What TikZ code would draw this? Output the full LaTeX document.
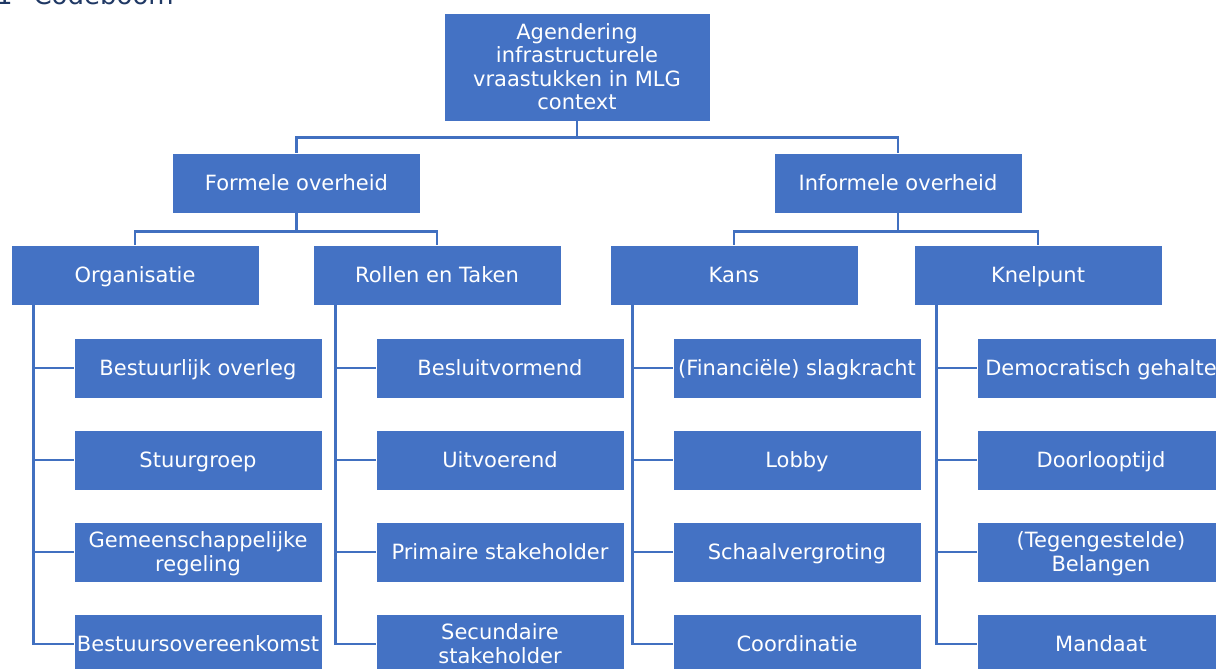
\documentclass[tikz,border=0pt]{standalone}
\usepackage{fontspec}
\setmainfont{DejaVu Sans}
\usepackage{tikz}
\definecolor{cbblue}{HTML}{4472C4}
\definecolor{cbline}{HTML}{4170C0}
\definecolor{cbtitle}{HTML}{1F3864}
\newcommand{\cbwidth}{248}
\newcommand{\cbheight}{60}

\begin{document}
\begin{tikzpicture}[x=1pt,y=-1pt,twolines/.style={text height=40pt},fourlines/.style={text height=87pt}]
	\useasboundingbox (0,0) rectangle (1216,669);
	\clip (0,0) rectangle (1216,669);
	\node[anchor=base west,inner sep=0,text=cbtitle,font=\fontsize{26}{30}\selectfont] (title) at (-4,5) {1\hspace{0.8em}Codeboom};
	% fixed text height/depth keeps the caps centred in every box
	\begin{scope}[shape=rectangle,minimum width=\cbwidth,minimum height=\cbheight,inner sep=0,align=center,text=white,font=\fontsize{21}{23.5}\selectfont,text height=16.5pt,text depth=1.5pt]
		\tikzstyle{every node}=[draw=white,line width=0.8pt,fill=cbblue]
		% top
		\node[fourlines,minimum width=266,minimum height=108] (root) at (577,67) {Agendering\\infrastructurele\\vraastukken in MLG\\context};
		\node (formeel) at (296.5,183) {Formele overheid};
		\node (informeel) at (898,183) {Informele overheid};
		% second layer
		\node (org) at (135,275) {Organisatie};
		\node (rol) at (437,275) {Rollen en Taken};
		\node (kans) at (734,275) {Kans};
		\node (knel) at (1038,275) {Knelpunt};
		% codes
		\node (org1) at (198,368) {Bestuurlijk overleg};
		\node (org2) at (198,460) {Stuurgroep};
		\node[twolines] (org3) at (198,552) {Gemeenschappelijke\\regeling};
		\node (org4) at (198,644) {Bestuursovereenkomst};
		\node (rol1) at (500,368) {Besluitvormend};
		\node (rol2) at (500,460) {Uitvoerend};
		\node (rol3) at (500,552) {Primaire stakeholder};
		\node[twolines] (rol4) at (500,644) {Secundaire\\stakeholder};
		\node (kans1) at (797,368) {(Financiële) slagkracht};
		\node (kans2) at (797,460) {Lobby};
		\node (kans3) at (797,552) {Schaalvergroting};
		\node (kans4) at (797,644) {Coordinatie};
		\node (knel1) at (1101,368) {Democratisch gehalte};
		\node (knel2) at (1101,460) {Doorlooptijd};
		\node[twolines] (knel3) at (1101,552) {(Tegengestelde)\\Belangen};
		\node (knel4) at (1101,644) {Mandaat};
	\end{scope}
	\begin{scope}[cbline,line width=2.5pt]
		\draw [-] (root.south) -- ++(0,16) -| (formeel.north);
		\draw [-] (root.south) -- ++(0,16) -| (informeel.north);
		\draw [-] (formeel.south) -- ++(0,18) -| (org.north);
		\draw [-] (formeel.south) -- ++(0,18) -| (rol.north);
		\draw [-] (informeel.south) -- ++(0,18) -| (kans.north);
		\draw [-] (informeel.south) -- ++(0,18) -| (knel.north);
		\foreach \g in {org,rol,kans,knel}
			\foreach \i in {1,...,4}
				\draw [-] (\g.south west) ++(23,0) |- (\g\i.west);
	\end{scope}
\end{tikzpicture}
\end{document}
